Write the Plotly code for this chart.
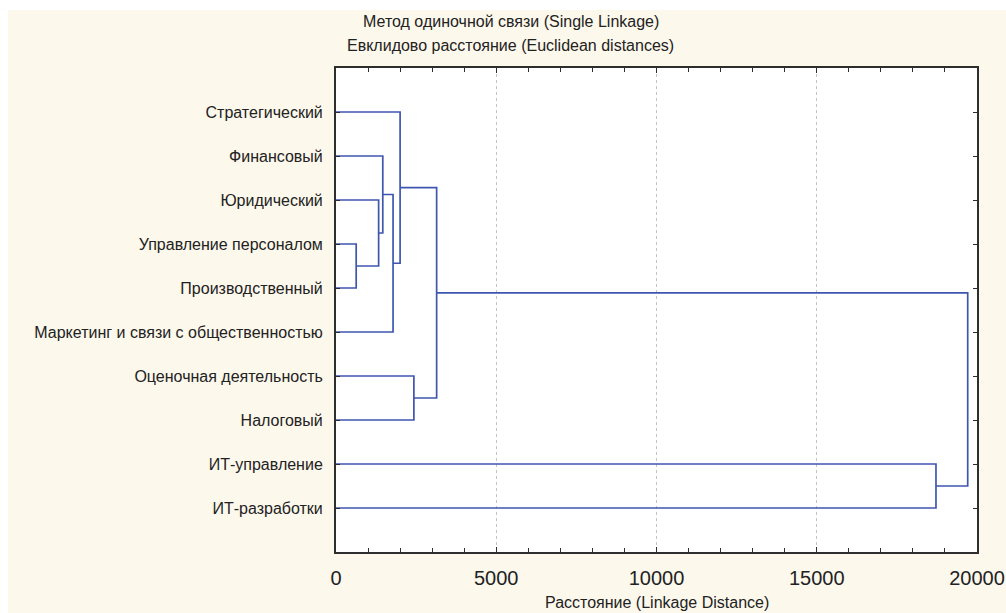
import plotly.graph_objects as go

# Leaves in dendrogram order (top to bottom)
leaves = [
    "Стратегический",
    "Финансовый",
    "Юридический",
    "Управление персоналом",
    "Производственный",
    "Маркетинг и связи с общественностью",
    "Оценочная деятельность",
    "Налоговый",
    "ИТ-управление",
    "ИТ-разработки",
]

# Single-linkage merges: (cluster a, cluster b, linkage distance)
# clusters 0..9 are leaves, each merge creates cluster 10, 11, ...
merge_a = [3, 2, 1, 12, 0, 6, 14, 8, 16]
merge_b = [4, 10, 11, 5, 13, 7, 15, 9, 17]
merge_dist = [630, 1330, 1460, 1780, 2000, 2430, 3140, 18720, 19710]

x_ticks = [0, 5000, 10000, 15000, 20000]

# Node coordinates: leaves sit at positions 1..n with zero height
node_y = {i: i + 1 for i in range(len(leaves))}
node_h = {i: 0.0 for i in range(len(leaves))}

xs, ys = [], []
for k, (a, b, h) in enumerate(zip(merge_a, merge_b, merge_dist)):
    new = len(leaves) + k
    xs += [node_h[a], h, h, node_h[b], None]
    ys += [node_y[a], node_y[a], node_y[b], node_y[b], None]
    node_y[new] = (node_y[a] + node_y[b]) / 2
    node_h[new] = h

fig = go.Figure()
fig.add_trace(go.Scatter(
    x=xs, y=ys, mode="lines",
    line=dict(color="#3f56b0", width=1.7),
    hoverinfo="skip", showlegend=False,
))

cream = "#fdf8ec"
axis_col = "#2e2e2e"

fig.update_layout(
    width=1006, height=613,
    margin=dict(l=336, r=29, t=68, b=61),
    paper_bgcolor=cream,
    plot_bgcolor="white",
    font=dict(family="Liberation Sans, Arial, sans-serif", color="#222"),
    showlegend=False,
)

fig.update_xaxes(
    automargin=False,
    range=[0, 20000],
    tickvals=x_ticks,
    ticktext=[str(v) for v in x_ticks],
    tickfont=dict(size=20),
    ticks="inside", ticklen=5, tickcolor=axis_col, tickwidth=1,
    ticklabelstandoff=7,
    minor=dict(dtick=1000, ticks="inside", ticklen=4, tickcolor=axis_col, showgrid=False),
    showline=True, linecolor=axis_col, linewidth=2, mirror="ticks",
    showgrid=True, gridcolor="#c4c4c4", gridwidth=1, griddash="dot",
    zeroline=False,
)

fig.update_yaxes(
    automargin=False,
    range=[11, 0],
    tickvals=list(range(1, len(leaves) + 1)),
    ticktext=leaves,
    tickfont=dict(size=16),
    ticks="inside", ticklen=4, tickcolor=axis_col, tickwidth=1,
    ticklabelstandoff=8,
    showline=True, linecolor=axis_col, linewidth=2, mirror="ticks",
    showgrid=False, zeroline=False,
)

# Two-line heading
fig.add_annotation(text="Метод одиночной связи (Single Linkage)",
                   xref="paper", yref="paper", x=0.273, y=1.097,
                   xanchor="center", yanchor="middle", showarrow=False,
                   font=dict(size=16))
fig.add_annotation(text="Евклидово расстояние (Euclidean distances)",
                   xref="paper", yref="paper", x=0.273, y=1.0475,
                   xanchor="center", yanchor="middle", showarrow=False,
                   font=dict(size=16))

# Distance axis caption
fig.add_annotation(text="Расстояние (Linkage Distance)",
                   xref="paper", yref="paper", x=0.5, y=-0.104,
                   xanchor="center", yanchor="middle", showarrow=False,
                   font=dict(size=16))

# Thin white border along the top and left edges of the page
fig.add_shape(type="rect", xref="paper", yref="paper", layer="below",
              x0=-0.6, x1=1.1, y0=1.1198, y1=1.2,
              fillcolor="white", line=dict(width=0))
fig.add_shape(type="rect", xref="paper", yref="paper", layer="below",
              x0=-0.6, x1=-0.5117, y0=-0.2, y1=1.2,
              fillcolor="white", line=dict(width=0))

fig.write_html("out.html")
